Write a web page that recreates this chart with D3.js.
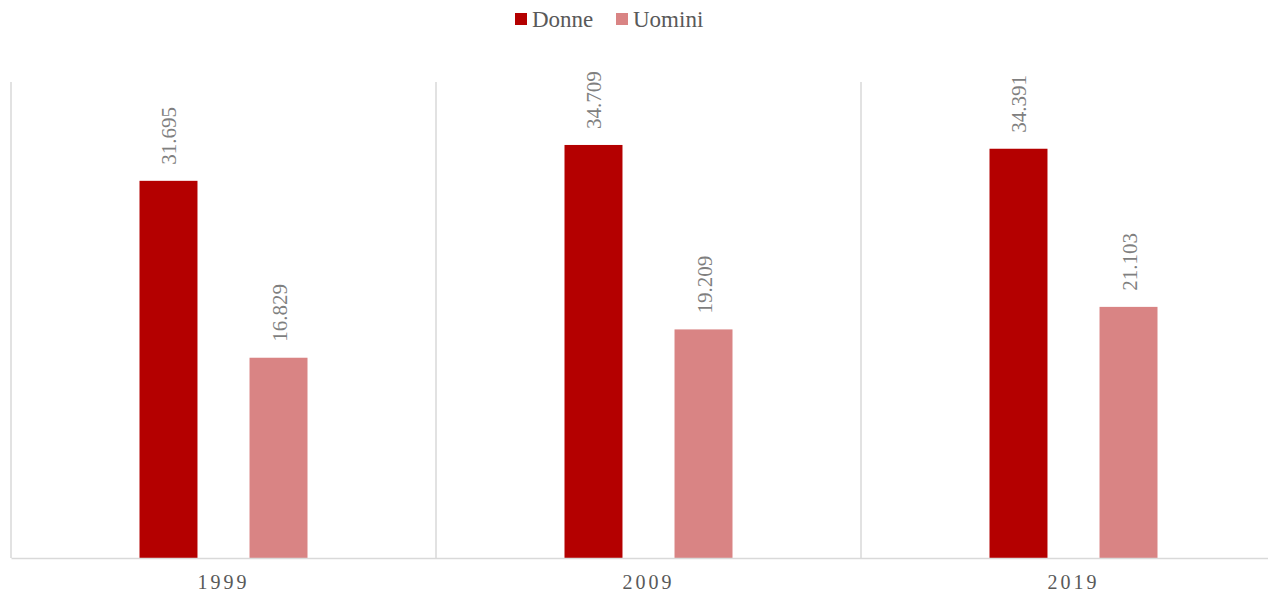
<!DOCTYPE html>
<html><head><meta charset="utf-8">
<script src="https://cdn.jsdelivr.net/npm/d3@7"></script>
<style>body{margin:0;background:#fff}svg{display:block}</style>
</head><body>
<svg id="c" width="1268" height="594"></svg>
<script>
const categories = ["1999", "2009", "2019"];
const seriesNames = ["Donne", "Uomini"];
const donne = [31.695, 34.709, 34.391];
const uomini = [16.829, 19.209, 21.103];
const colors = ["#b40000", "#d98484"];
const values = [donne, uomini];

(function () {
const svg = d3.select("#c");
const mLeft = 11, mRight = 1286, mTop = 82, mBottom = 558;
const x = d3.scaleBand().domain(categories).range([mLeft, mRight]).padding(0);
const y = d3.scaleLinear().domain([0, 40]).range([mBottom, mTop]);
const inner = d3.scaleBand().domain(seriesNames).range([0, x.bandwidth()]).paddingInner(0.473).paddingOuter(1.168);

// vertical separators
const seps = [mLeft].concat(categories.slice(1).map(c => x(c)));
svg.selectAll("line.sep").data(seps).enter().append("line")
  .attr("x1", d => d).attr("x2", d => d).attr("y1", mTop).attr("y2", mBottom)
  .attr("stroke", "#d9d9d9").attr("stroke-width", 1.5);

// bars
seriesNames.forEach((s, si) => {
  const g = svg.append("g");
  g.selectAll("rect").data(categories).enter().append("rect")
    .attr("x", c => x(c) + inner(s))
    .attr("width", inner.bandwidth())
    .attr("y", (c, i) => y(values[si][i]))
    .attr("height", (c, i) => mBottom - y(values[si][i]))
    .attr("fill", colors[si]);
  g.selectAll("text").data(categories).enter().append("text")
    .attr("transform", (c, i) => `translate(${x(c) + inner(s) + inner.bandwidth()/2 + 8},${y(values[si][i]) - 16}) rotate(-90)`)
    .attr("font-family", "Liberation Serif, Times New Roman, serif")
    .attr("font-size", 21).attr("fill", "#7f7f7f")
    .text((c, i) => values[si][i].toFixed(3));
});

// x axis
const xAxis = d3.axisBottom(x).tickSize(0).tickPadding(17);
const ax = svg.append("g").attr("transform", `translate(0,${mBottom})`).call(xAxis);
ax.select(".domain").attr("stroke", "#d9d9d9").attr("stroke-width", 1.5);
ax.selectAll("text").attr("font-family", "Liberation Serif, Times New Roman, serif")
  .attr("font-size", 20).attr("fill", "#595959").attr("letter-spacing", "3px");

// legend
const legX = [515, 616];
const lg = svg.append("g");
seriesNames.forEach((s, i) => {
  lg.append("rect").attr("x", legX[i]).attr("y", 13).attr("width", 12).attr("height", 12).attr("fill", colors[i]);
  lg.append("text").attr("x", legX[i] + 17).attr("y", 27)
    .attr("font-family", "Liberation Serif, Times New Roman, serif")
    .attr("font-size", 23).attr("fill", "#595959").text(s);
});
})();
</script>
</body></html>
